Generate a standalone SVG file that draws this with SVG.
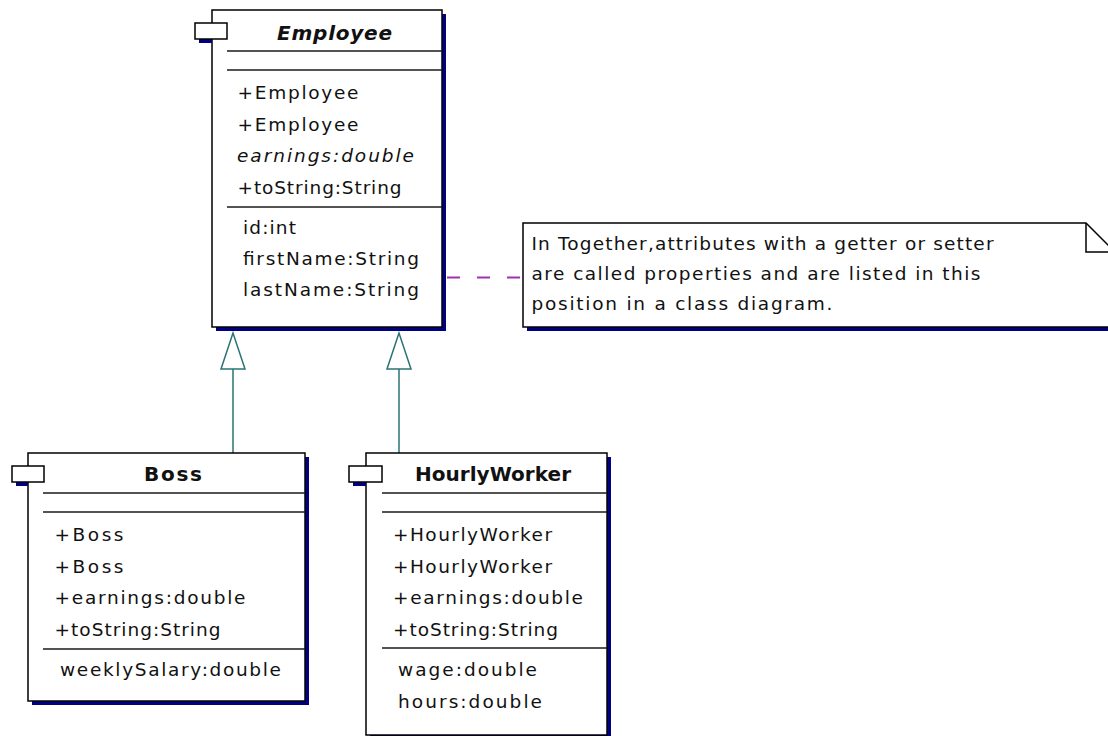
<svg xmlns="http://www.w3.org/2000/svg" width="1108" height="736" viewBox="0 0 1108 736">
<style>
.bg{fill:#fff}
.box{fill:#fff;stroke:#000;stroke-width:1.5}
.fold{fill:none;stroke:#000;stroke-width:1.5}
.sh{fill:#000080}
.sep{stroke:#1a1a1a;stroke-width:1.5}
.t{font-family:"DejaVu Sans","Liberation Sans",Arial,sans-serif;font-size:18.5px;fill:#111}
.ti{font-style:italic}
.title{font-weight:bold;font-size:20px}
.conn{stroke:#2b7373;stroke-width:1.5;fill:none}
.arrow{fill:#fff;stroke:#2b7373;stroke-width:1.5}
.note-link{stroke:#a030b0;stroke-width:2;stroke-dasharray:13 17;fill:none}
</style>
<rect class="bg" x="0" y="0" width="1108" height="736"/>

<g id="connectors">
  <path class="conn" d="M233,369 V453"/>
  <polygon class="arrow" points="233,333 221,369 245,369"/>
  <path class="conn" d="M399,369 V453"/>
  <polygon class="arrow" points="399,333 387,369 411,369"/>
  <path class="note-link" d="M447,277.5 H523"/>
</g>

<g id="employee">
  <rect class="sh" x="216" y="14" width="230" height="317"/>
  <rect class="box" x="212" y="10" width="230" height="317"/>
  <rect class="sh" x="199" y="39" width="13" height="4"/>
  <rect class="box" x="195" y="23" width="32" height="16"/>
  <text class="t title ti" x="277" y="40" textLength="115">Employee</text>
  <line class="sep" x1="227" y1="51" x2="442" y2="51"/>
  <line class="sep" x1="227" y1="70" x2="442" y2="70"/>
  <text class="t" x="237.5" y="99" textLength="121">+Employee</text>
  <text class="t" x="237.5" y="130.5" textLength="121">+Employee</text>
  <text class="t ti" x="237" y="162" textLength="177">earnings:double</text>
  <text class="t" x="237.5" y="193.5" textLength="164">+toString:String</text>
  <line class="sep" x1="227" y1="207" x2="442" y2="207"/>
  <text class="t" x="243" y="234" textLength="53">id:int</text>
  <text class="t" x="243" y="265" textLength="176">firstName:String</text>
  <text class="t" x="243" y="296" textLength="176">lastName:String</text>
</g>

<g id="boss">
  <rect class="sh" x="32" y="457" width="277" height="248"/>
  <rect class="box" x="28" y="453" width="277" height="248"/>
  <rect class="sh" x="16" y="482" width="12" height="4"/>
  <rect class="box" x="12" y="466" width="32" height="16"/>
  <text class="t title" x="144" y="481" textLength="58">Boss</text>
  <line class="sep" x1="43" y1="493" x2="305" y2="493"/>
  <line class="sep" x1="43" y1="512" x2="305" y2="512"/>
  <text class="t" x="54.5" y="541" textLength="69">+Boss</text>
  <text class="t" x="54.5" y="572.5" textLength="69">+Boss</text>
  <text class="t" x="54.5" y="604" textLength="191">+earnings:double</text>
  <text class="t" x="54.5" y="635.5" textLength="166">+toString:String</text>
  <line class="sep" x1="43" y1="649" x2="305" y2="649"/>
  <text class="t" x="60" y="676" textLength="221">weeklySalary:double</text>
</g>

<g id="hourlyworker">
  <rect class="sh" x="370" y="457" width="241" height="282"/>
  <rect class="box" x="366" y="453" width="241" height="282"/>
  <rect class="sh" x="353" y="482" width="13" height="4"/>
  <rect class="box" x="349" y="466" width="33" height="16"/>
  <text class="t title" x="415" y="481" textLength="156">HourlyWorker</text>
  <line class="sep" x1="382" y1="493" x2="607" y2="493"/>
  <line class="sep" x1="382" y1="512" x2="607" y2="512"/>
  <text class="t" x="393" y="541" textLength="159">+HourlyWorker</text>
  <text class="t" x="393" y="572.5" textLength="159">+HourlyWorker</text>
  <text class="t" x="393" y="604" textLength="190">+earnings:double</text>
  <text class="t" x="393" y="635.5" textLength="165">+toString:String</text>
  <line class="sep" x1="382" y1="648" x2="607" y2="648"/>
  <text class="t" x="398" y="676" textLength="139">wage:double</text>
  <text class="t" x="398" y="708" textLength="144">hours:double</text>
</g>

<g id="note">
  <rect class="sh" x="527" y="327" width="600" height="4"/>
  <path class="box" d="M523,223 H1086 L1115,252 V327 H523 Z"/>
  <path class="fold" d="M1086,223 V252 H1115"/>
  <text class="t" x="531.5" y="250" textLength="462">In Together,attributes with a getter or setter</text>
  <text class="t" x="531.5" y="280" textLength="449">are called properties and are listed in this</text>
  <text class="t" x="531.5" y="310" textLength="301">position in a class diagram.</text>
</g>
</svg>
